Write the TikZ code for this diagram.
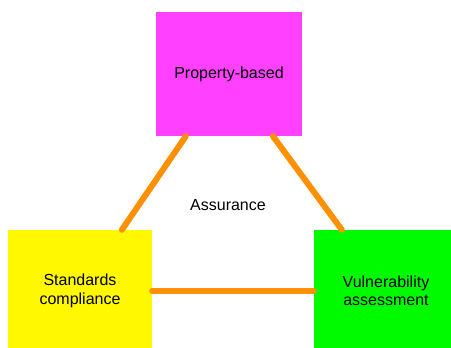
\documentclass[tikz,border=0pt]{standalone}
\usepackage{fontspec}
\setmainfont{Liberation Sans}
\usetikzlibrary{calc}
\definecolor{boxmagenta}{RGB}{255,64,255}
\definecolor{boxyellow}{RGB}{255,248,0}
\definecolor{boxgreen}{RGB}{0,250,0}
\definecolor{linkorange}{RGB}{255,145,0}
\begin{document}
\begin{tikzpicture}[x=1pt,y=-1pt,
box/.style={inner sep=0pt,minimum width=146pt,minimum height=124pt,
align=center,font=\fontsize{16}{18.4}\selectfont},
link/.style={draw=linkorange,line width=6pt,line cap=round}]
\clip (0,0) rectangle (451,348);
\node[box,fill=boxmagenta] (prop) at (229,74) {Property-based};
\node[box,fill=boxyellow,minimum width=144pt,minimum height=122pt] (std) at (80,291) {Standards\\compliance};
\node[box,fill=boxgreen,minimum width=144pt,minimum height=122pt] (vuln) at (386,291) {Vulnerability\\assessment};
\node[font=\fontsize{16}{18.4}\selectfont] (assur) at (228,205) {Assurance};
\path [link]
($(prop.south west)!0.205!(prop.south east)$) -- ($(std.north west)!0.79!(std.north east)$);
\path [link]
($(prop.south west)!0.80!(prop.south east)$) -- ($(vuln.north west)!0.194!(vuln.north east)$);
\path [link] (std.east) -- (vuln.west);
\end{tikzpicture}
\end{document}
